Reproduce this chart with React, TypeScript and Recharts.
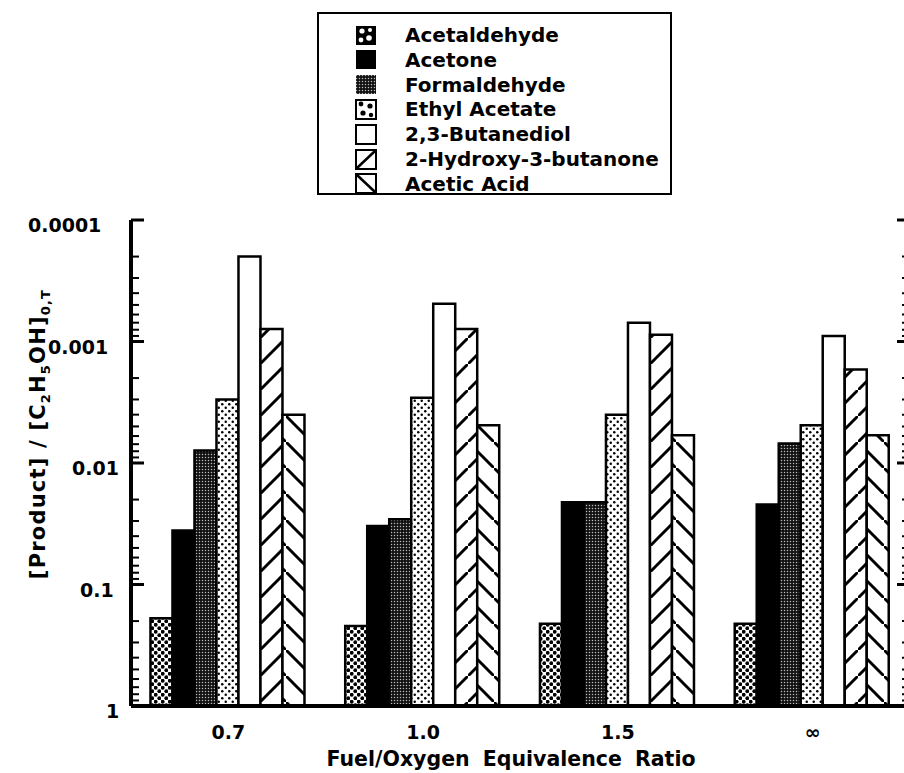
import { Bar, BarChart, XAxis, YAxis } from 'recharts';

const ratios = ['0.7', '1.0', '1.5', '∞'];
const seriesNames = [
  'Acetaldehyde',
  'Acetone',
  'Formaldehyde',
  'Ethyl Acetate',
  '2,3-Butanediol',
  '2-Hydroxy-3-butanone',
  'Acetic Acid',
];
const acetaldehyde = [0.19, 0.22, 0.21, 0.21];
const acetone = [0.036, 0.033, 0.021, 0.022];
const formaldehyde = [0.0079, 0.029, 0.021, 0.0069];
const ethylAcetate = [0.003, 0.0029, 0.004, 0.0049];
const butanediol = [0.0002, 0.00049, 0.0007, 0.0009];
const hydroxyButanone = [0.00079, 0.00079, 0.00088, 0.0017];
const aceticAcid = [0.004, 0.0049, 0.0059, 0.0059];
const seriesValues = [acetaldehyde, acetone, formaldehyde, ethylAcetate, butanediol, hydroxyButanone, aceticAcid];

const majorTicks = [0.0001, 0.001, 0.01, 0.1, 1];
const tickLabels = ['0.0001', '0.001', '0.01', '0.1', '1'];
const minorSteps = [2, 3, 4, 5, 6, 7, 8, 9];

// the scanned labels are not quite aligned, so each one gets its own left edge
const tickLabelLeft = [28, 48, 72, 80, 106];

const seriesFills = [
  'url(#bigDots)',
  '#000',
  'url(#stipple)',
  'url(#smallDots)',
  '#fff',
  'url(#hatchUp)',
  'url(#hatchDown)',
];

const allTicks = [
  ...majorTicks,
  ...majorTicks.slice(0, -1).flatMap((d) => minorSteps.map((m) => d * m)),
];

const chartData = ratios.map((ratio, i) => {
  const row: Record<string, any> = { ratio };
  seriesNames.forEach((name, s) => {
    row[name] = [1, seriesValues[s][i]];
  });
  return row;
});

const FONT = '"DejaVu Sans", sans-serif';

const majorIndex = (v: number) => majorTicks.findIndex((t) => Math.abs(t - v) < v * 1e-6);

const LeftTick = (props: any) => {
  const { x, y, payload } = props;
  const i = majorIndex(payload.value);
  const major = i >= 0;
  return (
    <g>
      <line x1={x} x2={x + (major ? 13 : 8)} y1={y} y2={y} stroke="#000" strokeWidth={major ? 3 : 2} />
      {major && (
        <text
          x={tickLabelLeft[i]}
          y={y + 5}
          textAnchor="start"
          dominantBaseline="central"
          fontFamily={FONT}
          fontWeight="bold"
          fontSize={19}
          fill="#000"
        >
          {tickLabels[i]}
        </text>
      )}
    </g>
  );
};

const RightTick = (props: any) => {
  const { x, y, payload } = props;
  const major = majorIndex(payload.value) >= 0;
  return <line x1={x} x2={x - (major ? 13 : 8)} y1={y} y2={y} stroke="#000" strokeWidth={major ? 3 : 2} />;
};

const BottomTick = (props: any) => {
  const { x, y, payload } = props;
  return (
    <text
      x={x}
      y={y + 26}
      textAnchor="middle"
      dominantBaseline="central"
      fontFamily={FONT}
      fontWeight="bold"
      fontSize={19}
      fill="#000"
    >
      {payload.value}
    </text>
  );
};

const yTitle = () => (
  <text
    transform="translate(45, 434) rotate(-90)"
    textAnchor="middle"
    fontFamily={FONT}
    fontWeight="bold"
    fontSize={21}
    letterSpacing={1.2}
    fill="#000"
  >
    [Product] / [C
    <tspan fontSize={13} dy={5}>2</tspan>
    <tspan dy={-5}>H</tspan>
    <tspan fontSize={13} dy={5}>5</tspan>
    <tspan dy={-5}>OH]</tspan>
    <tspan fontSize={13} dy={5}>0,T</tspan>
  </text>
);

const xTitle = () => (
  <text
    x={511}
    y={759}
    textAnchor="middle"
    dominantBaseline="central"
    fontFamily={FONT}
    fontWeight="bold"
    fontSize={20.5}
    wordSpacing={6}
    fill="#000"
  >
    Fuel/Oxygen Equivalence Ratio
  </text>
);

const Swatch = ({ index }: { index: number }) => (
  <svg width={22} height={21} style={{ display: 'block' }}>
    {index === 0 && (
      <g>
        <rect x={1} y={1} width={20} height={19} fill="#000" />
        <circle cx={7} cy={6} r={2.6} fill="#fff" />
        <circle cx={15} cy={5} r={2} fill="#fff" />
        <circle cx={6} cy={15} r={2.4} fill="#fff" />
        <circle cx={14} cy={13} r={2.8} fill="#fff" />
      </g>
    )}
    {index === 1 && <rect x={1} y={1} width={20} height={19} fill="#000" />}
    {index === 2 && (
      <g>
        <rect x={1} y={1} width={20} height={19} fill="#111" />
        <rect x={1} y={1} width={20} height={19} fill="url(#stipple)" />
      </g>
    )}
    {index === 3 && (
      <g>
        <rect x={1} y={1} width={20} height={19} fill="#fff" stroke="#000" strokeWidth={2} />
        <circle cx={6} cy={5} r={2.4} fill="#000" />
        <circle cx={15} cy={7} r={2.6} fill="#000" />
        <circle cx={8} cy={14} r={2.6} fill="#000" />
        <circle cx={16} cy={16} r={2.2} fill="#000" />
      </g>
    )}
    {index >= 4 && <rect x={1} y={1} width={20} height={19} fill="#fff" stroke="#000" strokeWidth={2} />}
    {index === 5 && <line x1={2} y1={19} x2={20} y2={2} stroke="#000" strokeWidth={2.5} />}
    {index === 6 && <line x1={2} y1={2} x2={20} y2={19} stroke="#000" strokeWidth={2.5} />}
  </svg>
);

const LegendBox = () => (
  <div
    style={{
      position: 'absolute',
      left: 317,
      top: 12,
      width: 355,
      height: 183,
      border: '2px solid #000',
      boxSizing: 'border-box',
      background: '#fff',
    }}
  >
    {seriesNames.map((name, i) => (
      <div
        key={name}
        style={{
          position: 'absolute',
          left: 36,
          top: 35 + 24.8 * i - 14 - 12,
          height: 24,
          display: 'flex',
          alignItems: 'center',
        }}
      >
        <Swatch index={i} />
        <span
          style={{
            marginLeft: 28,
            fontFamily: FONT,
            fontWeight: 'bold',
            fontSize: 20,
            lineHeight: '24px',
            color: '#000',
            whiteSpace: 'nowrap',
          }}
        >
          {name}
        </span>
      </div>
    ))}
  </div>
);

export default function App() {
  return (
    <div
      style={{
        position: 'absolute',
        left: 0,
        top: 0,
        width: 904,
        height: 773,
        overflow: 'hidden',
        background: '#fff',
      }}
    >
      <BarChart
        width={922}
        height={773}
        data={chartData}
        margin={{ top: 220, right: 0, bottom: 0, left: 0 }}
        barCategoryGap="10%"
        barGap={0}
      >
        <defs>
          <pattern id="bigDots" patternUnits="userSpaceOnUse" width={7} height={7}>
            <rect width={7} height={7} fill="#fff" />
            <circle cx={1.75} cy={1.75} r={1.9} fill="#000" />
            <circle cx={5.25} cy={5.25} r={1.9} fill="#000" />
          </pattern>
          <pattern id="smallDots" patternUnits="userSpaceOnUse" width={7} height={7}>
            <rect width={7} height={7} fill="#fff" />
            <circle cx={1.75} cy={1.75} r={1.25} fill="#000" />
            <circle cx={5.25} cy={5.25} r={1.25} fill="#000" />
          </pattern>
          <pattern id="stipple" patternUnits="userSpaceOnUse" width={3} height={3}>
            <rect width={3} height={3} fill="#111" />
            <circle cx={1.5} cy={1.5} r={0.75} fill="#bbb" />
          </pattern>
          <pattern id="hatchUp" patternUnits="userSpaceOnUse" width={26} height={26}>
            <rect width={26} height={26} fill="#fff" />
            <line x1={-5} y1={31} x2={31} y2={-5} stroke="#000" strokeWidth={3} />
          </pattern>
          <pattern id="hatchDown" patternUnits="userSpaceOnUse" width={26} height={26}>
            <rect width={26} height={26} fill="#fff" />
            <line x1={-5} y1={-5} x2={31} y2={31} stroke="#000" strokeWidth={3} />
          </pattern>
        </defs>
        <XAxis
          dataKey="ratio"
          height={67}
          tickSize={0}
          tickMargin={0}
          tickLine={false}
          axisLine={{ stroke: '#000', strokeWidth: 4 }}
          tick={<BottomTick />}
          interval={0}
          label={{ content: xTitle }}
        />
        <XAxis
          xAxisId="top"
          dataKey="ratio"
          orientation="top"
          height={0}
          tick={false}
          tickLine={false}
          axisLine={{ stroke: '#000', strokeWidth: 4 }}
        />
        <YAxis
          type="number"
          scale="log"
          domain={[0.0001, 1]}
          allowDataOverflow
          reversed
          ticks={allTicks}
          interval={0}
          width={131}
          tickSize={0}
          tickMargin={0}
          tickLine={false}
          axisLine={{ stroke: '#000', strokeWidth: 4 }}
          tick={<LeftTick />}
          label={{ content: yTitle }}
        />
        <YAxis
          yAxisId="right"
          orientation="right"
          type="number"
          scale="log"
          domain={[0.0001, 1]}
          allowDataOverflow
          reversed
          ticks={allTicks}
          interval={0}
          width={12}
          tickSize={0}
          tickMargin={0}
          tickLine={false}
          axisLine={{ stroke: '#000', strokeWidth: 4 }}
          tick={<RightTick />}
        />
        {seriesNames.map((name, s) => (
          <Bar
            key={name}
            dataKey={name}
            fill={seriesFills[s]}
            stroke="#000"
            strokeWidth={2.5}
            isAnimationActive={false}
          />
        ))}
      </BarChart>
      <LegendBox />
    </div>
  );
}
